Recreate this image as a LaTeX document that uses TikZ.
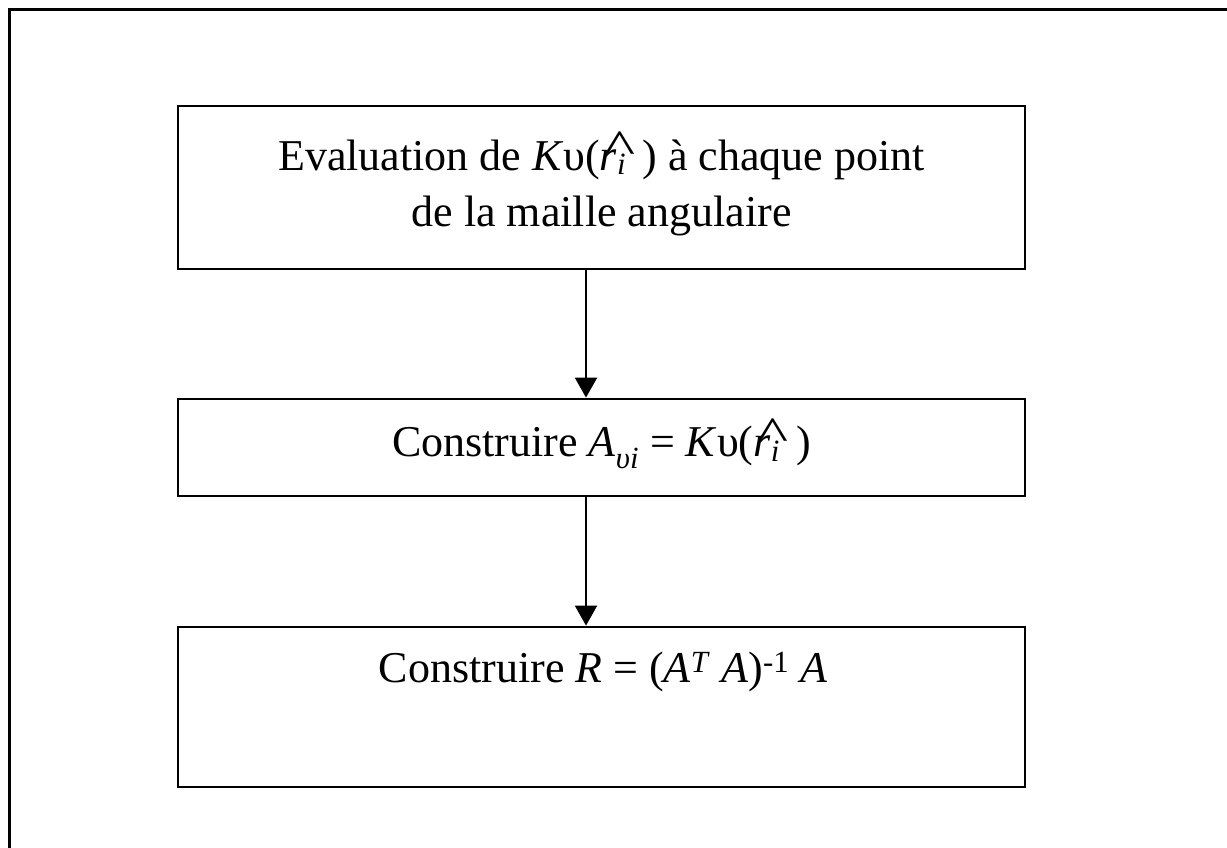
\documentclass[tikz,border=0pt]{standalone}
\usepackage{fontspec}
\usepackage{graphicx}
\setmainfont{Liberation Serif}
\usetikzlibrary{arrows.meta}
\newcommand\rhati{\ooalign{\textit{r}\raisebox{-0.1em}{\fontsize{31}{31}\selectfont\textit{i}}\cr
  \hfil\hspace{0.1em}\raisebox{0.14em}{\scalebox{1.5}[1.1]{\^{}}}\hfil\cr}\,}
\tikzset{
  frame/.style={line width=3pt},
  box/.style={draw, line width=2.8pt, minimum width=847pt, inner sep=0pt, align=center,
              font=\fontsize{44}{56}\selectfont},
  txt/.style={font=\fontsize{44}{56}\selectfont, inner sep=0pt},
  flow/.style={line width=2pt, -{Triangle[width=22pt,length=20pt]}}
}
\begin{document}
\begin{tikzpicture}[x=1pt,y=1pt]
\useasboundingbox (0,0) rectangle (1227,-847);
\fill[white] (0,0) rectangle (1227,-847);
\draw[frame] (9,-850) -- (9,-9.5) -- (1230,-9.5);
\node[box, minimum height=163pt] (b1) at (601.5,-187.5)
  {Evaluation de \textit{K}υ(\rhati) à chaque point\\de la maille angulaire};
\node[box, minimum height=97pt] (b2) at (601.5,-447.5)
  {Construire \textit{A}\textsubscript{\textit{υi}} = \textit{K}υ(\rhati)};
\node[box, minimum height=160pt] (b3) at (601.5,-707) {};
\node[txt, anchor=base] (t3) at (603,-682)
  {Construire \textit{R} = (\textit{A}\textsuperscript{\textit{T}} \textit{A})\textsuperscript{-1} \textit{A}};
\coordinate (ax) at (586,0);
\draw[flow] (b1.south -| ax) -- (b2.north -| ax);
\draw[flow] (b2.south -| ax) -- (b3.north -| ax);
\end{tikzpicture}
\end{document}
